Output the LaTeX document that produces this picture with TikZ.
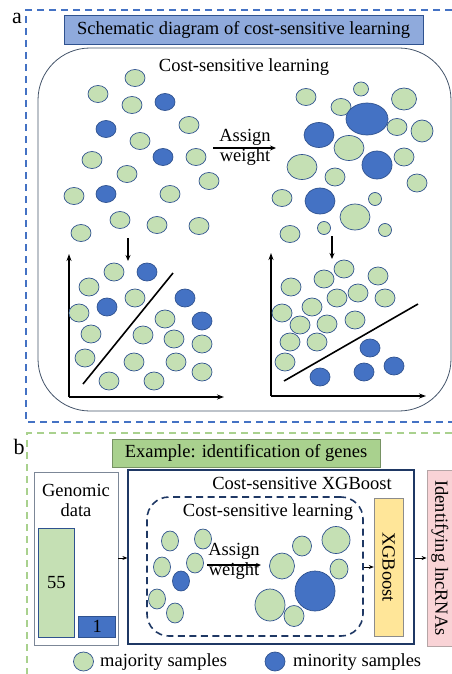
\documentclass[tikz,border=0pt]{standalone}
\usepackage{fontspec}
\setmainfont{Liberation Serif}
\usetikzlibrary{shapes.geometric,arrows.meta,shadows}
\definecolor{cg}{HTML}{C5E0B4}
\definecolor{cb}{HTML}{4472C4}
\definecolor{cbd}{HTML}{2F528F}
\definecolor{cnavy}{HTML}{1F3864}
\definecolor{cframe}{HTML}{44546A}
\definecolor{ctitleA}{HTML}{8FAADC}
\definecolor{ctitleB}{HTML}{A9D18E}
\definecolor{cgreenline}{HTML}{A9D18E}
\definecolor{cyel}{HTML}{FFE699}
\definecolor{cpink}{HTML}{F9D3D6}
\newcommand\myfs{\fontsize{18.5}{21}\selectfont}
\tikzset{
  blob/.style={ellipse, draw=cbd, line width=0.7pt, inner sep=0pt},
  gblob/.style={blob, fill=cg},
  bblob/.style={blob, fill=cb},
  txt/.style={font=\myfs, inner sep=0pt},
  arr/.style={-{Stealth[length=6pt,width=5pt]}, line width=1.2pt, black},
  axis/.style={-{Stealth[length=7pt,width=5pt]}, line width=1.6pt, black},
  sarr/.style={-{Stealth[length=5pt,width=4pt]}, line width=0.9pt, black},
  sepline/.style={line width=1.6pt, black},
}
\begin{document}
\begin{tikzpicture}[x=1pt,y=-1pt]
\useasboundingbox (0,0) rectangle (452,674);
% ---------------- section a ----------------
\node[txt, font=\fontsize{22}{24}\selectfont, anchor=base] (la) at (17,24) {a};
\draw[cb, line width=1.5pt, dash pattern=on 7pt off 5pt] (452,10) -- (26,10) -- (26,422) -- (452,422);
\node[draw=cbd, line width=0.8pt, fill=ctitleA, drop shadow={opacity=0.35, shadow xshift=1.2pt, shadow yshift=-1.2pt}, minimum width=359, minimum height=29, inner sep=0pt, font=\myfs] (titleA) at (243.5,29.5) {Schematic diagram of cost-sensitive learning};
\draw[cframe, line width=0.8pt, rounded corners=52pt] (38,48) rectangle (451,411);
\node[txt, anchor=base] (csl) at (244,72) {Cost-sensitive learning};
% top left circles
\foreach \x/\y [count=\i] in {135/78,98/94,132/105,189/125,140/141,92/160,196/157,127/174,209/181,74/196,170/194,120/220,157/225,199/226,81/233}
  \node[gblob, minimum width=20, minimum height=17] (tlg\i) at (\x,\y) {};
\foreach \x/\y [count=\i] in {165/102,106/129,163/157,106/194}
  \node[bblob, minimum width=20, minimum height=17] (tlb\i) at (\x,\y) {};
% top right circles
\foreach \x/\y/\w/\h/\c [count=\i] in {306/97/20/17/cg,361/89/15/14/cg,404/99/25/22/cg,341/107/20/17/cg,367/119/42/32/cb,319/135/30/25/cb,397/127/20/17/cg,422/131/22/22/cg,349/148/30/25/cg,377/165/30/28/cb,404/157/20/18/cg,302/167/30/25/cg,335/177/20/18/cg,417/183/20/18/cg,282/198/20/17/cg,320/201/30/26/cb,375/199/13/13/cg,355/217/30/26/cg,290/234/20/17/cg,324/228/13/13/cg,385/230/13/13/cg}
  \node[blob, fill=\c, minimum width=\w, minimum height=\h] (tr\i) at (\x,\y) {};
% assign weight arrow
\coordinate (awS) at (213,148);
\coordinate (awE) at (276,148);
\draw[arr] (awS) -- (awE);
\node[txt, anchor=base] (aw1) at (245,142) {Assign};
\node[txt, anchor=base] (aw2) at (245,161) {weight};
% down arrows
\coordinate (dlS) at (128,238); \coordinate (dlE) at (128,261);
\draw[arr] (dlS) -- (dlE);
\coordinate (drS) at (332,236); \coordinate (drE) at (332,259);
\draw[arr] (drS) -- (drE);
% left plot
\coordinate (lo) at (69,397); \coordinate (ly) at (69,254); \coordinate (lx) at (224,397);
\draw[axis] (lo) -- (ly);
\draw[axis] (lo) -- (lx);
\coordinate (ld1) at (83,384); \coordinate (ld2) at (173,273);
\draw[sepline] (ld1) -- (ld2);
\foreach \x/\y [count=\i] in {114/272,89/287,135/298,79/313,165/319,91/334,143/335,174/339,202/344,85/358,134/362,176/362,202/372,109/381,154/381}
  \node[gblob, minimum width=20, minimum height=18] (lpg\i) at (\x,\y) {};
\foreach \x/\y [count=\i] in {147/272,107/307,185/298,202/321}
  \node[bblob, minimum width=20, minimum height=18] (lpb\i) at (\x,\y) {};
% right plot
\coordinate (ro) at (271,396); \coordinate (ry) at (271,253); \coordinate (rx) at (426,396);
\draw[axis] (ro) -- (ry);
\draw[axis] (ro) -- (rx);
\coordinate (rd1) at (284,381); \coordinate (rd2) at (418,304);
\draw[sepline] (rd1) -- (rd2);
\foreach \x/\y [count=\i] in {344/269,378/276,324/279,291/287,358/293,337/298,385/298,312/307,282/313,355/320,300/325,327/324,290/342,317/342,285/362}
  \node[gblob, minimum width=20, minimum height=18] (rpg\i) at (\x,\y) {};
\foreach \x/\y [count=\i] in {370/348,394/366,364/372,320/377}
  \node[bblob, minimum width=20, minimum height=18] (rpb\i) at (\x,\y) {};
% ---------------- section b ----------------
\node[txt, font=\fontsize{22}{24}\selectfont, anchor=base] (lb) at (19,454) {b};
\draw[cgreenline, line width=1.5pt, dash pattern=on 7pt off 5pt] (452,433) -- (27,433) -- (27,674);
\node[draw=ctitleB!70!black, line width=0.8pt, fill=ctitleB, drop shadow={opacity=0.3, shadow xshift=1pt, shadow yshift=-1pt}, minimum width=268, minimum height=28, inner sep=0pt, font=\myfs] (titleB) at (246,453) {Example: identification of genes};
% genomic data
\node[draw=cframe!70, line width=0.8pt, minimum width=84, minimum height=173, inner sep=0pt] (gen) at (76,558.5) {};
\node[txt, anchor=base] (gen1) at (76,496) {Genomic};
\node[txt, anchor=base] (gen2) at (76,516.5) {data};
\node[draw=cbd, line width=0.7pt, fill=cg, minimum width=36, minimum height=109, inner sep=0pt, font=\myfs] (bar55) at (56.3,582.5) {55};
\node[draw=cbd, line width=0.7pt, fill=cb, minimum width=37, minimum height=21, inner sep=0pt, font=\myfs] (bar1) at (97.3,626.5) {1};
% cost-sensitive xgboost
\node[draw=cnavy, line width=1.8pt, minimum width=286, minimum height=174, inner sep=0pt] (xgbo) at (271.3,557) {};
\node[txt, anchor=base] (xgbt) at (302,489) {Cost-sensitive XGBoost};
\node[draw=cnavy, line width=1.6pt, dash pattern=on 7pt off 4.5pt, rounded corners=22pt, minimum width=216, minimum height=139, inner sep=0pt] (cslb) at (255,566.5) {};
\node[txt, anchor=base] (cslbt) at (268,516) {Cost-sensitive learning};
\foreach \x/\y [count=\i] in {170/541,203/539,162/567,195/563,157/599,175/613}
  \node[gblob, minimum width=17, minimum height=20] (bg\i) at (\x,\y) {};
\node[bblob, minimum width=17, minimum height=20] (bb1) at (181,581) {};
\coordinate (bwS) at (207,565); \coordinate (bwE) at (261,565);
\draw[sarr, line width=1.1pt] (bwS) -- (bwE);
\node[txt, anchor=base] (bw1) at (234,555) {Assign};
\node[txt, anchor=base] (bw2) at (234,575.5) {weight};
\foreach \x/\y/\w/\h/\c [count=\i] in {302/546/19/20/cg,336/540/28/27/cg,282/566/25/26/cg,339/569/18/20/cg,315/591/40/40/cb,270/605/30/32/cg,294/616/20/21/cg}
  \node[blob, fill=\c, minimum width=\w, minimum height=\h] (br\i) at (\x,\y) {};
% xgboost
\node[draw=black!45, line width=0.8pt, fill=cyel, minimum width=29, minimum height=138, inner sep=0pt] (xgb) at (388.7,567) {};
\node[txt, rotate=-90] (xgbt2) at (388.7,567) {XGBoost};
% identifying
\node[draw=cpink!60!black!70, line width=0.8pt, fill=cpink, minimum width=34, minimum height=176, inner sep=0pt] (idf) at (444,558) {};
\node[txt, rotate=-90] (idft) at (440,558) {Identifying lncRNAs};
% small arrows
\draw[sarr] (gen.east |- 0,558) -- (xgbo.west |- 0,558);
\draw[sarr] (cslb.east |- 0,567) -- (xgb.west |- 0,567);
\draw[sarr] (xgbo.east |- 0,558) -- (idf.west |- 0,558);
% legend
\node[gblob, minimum width=20, minimum height=19] (lg1) at (83.5,661.5) {};
\node[txt, anchor=base west] (lg1t) at (100,666.5) {majority samples};
\node[bblob, minimum width=20, minimum height=19] (lg2) at (275,661.5) {};
\node[txt, anchor=base west] (lg2t) at (293,666.5) {minority samples};
\end{tikzpicture}
\end{document}
